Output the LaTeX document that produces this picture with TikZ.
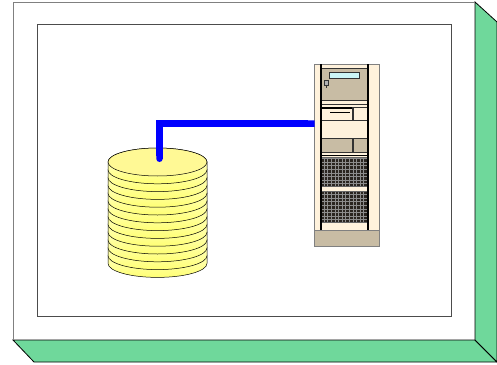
\documentclass[tikz,border=0pt]{standalone}
\usetikzlibrary{positioning}
\usetikzlibrary{arrows.meta}
\definecolor{cream}{HTML}{FFF2DC}
\definecolor{taupe}{HTML}{C8BCA4}
\definecolor{slab}{HTML}{6FD89B}
\definecolor{lcd}{HTML}{CCF6F6}
\definecolor{vent}{HTML}{2A2520}
\definecolor{diskface}{HTML}{FFF995}
\tikzset{x=1pt, y=-1pt}
\tikzset{edge/.style={draw=black, line width=0.8pt}}
\tikzset{rack/.style={rectangle, draw=gray, fill=cream, line width=0.6pt,
   minimum width=65pt, minimum height=166pt, inner sep=0pt}}
\tikzset{part/.style={draw=black!80, line width=0.6pt}}
\tikzset{disc/.style={draw=black, line width=0.5pt, top color=yellow!10, bottom color=yellow!55}}
\tikzset{link/.style={draw=blue, line width=6.5pt, {Round Cap[]}-{Butt Cap[]}}}

\begin{document}
\begin{tikzpicture}
  \useasboundingbox (0,0) rectangle (497,364);

  % box with its sides
  \fill[white] (13,2) rectangle (475,340);
  \filldraw[fill=slab, edge] (13,340) -- (475,340) -- (497,362) -- (34,362) -- cycle;
  \filldraw[fill=slab, edge] (475,2) -- (497,22) -- (497,362) -- (475,340) -- cycle;
  \draw[gray, line width=0.8pt] (13,340) -- (13,2) -- (475,2);
  \draw[black!70, line width=0.8pt] (37,24) rectangle (451,316);

  % disk stack
  \foreach \k in {12,...,0} {
    \pgfmathsetmacro\c{162+7.8*\k}
    \path[disc] (108,\c) -- (108,\c+7.8)
      arc[start angle=180, end angle=360, x radius=49.5pt, y radius=14pt]
      -- (207,\c)
      arc[start angle=0, end angle=180, x radius=49.5pt, y radius=14pt] -- cycle;
  }
  \filldraw[fill=diskface, draw=black, line width=0.5pt]
    (157.5,162) ellipse [x radius=49.5pt, y radius=14pt];
  \coordinate (disks) at (159.5,162);

  % server rack
  \node[rack] (server) at (346.5,147) {};
  \filldraw[fill=taupe, draw=gray, line width=0.6pt] (314,230) rectangle (379,246);
  \filldraw[fill=taupe, part] (321,68) rectangle (368,100);
  \filldraw[fill=lcd, part] (329,72) rectangle (359,78);
  \filldraw[fill=gray!60, part] (324,80) rectangle (328,85);
  \draw[part] (326,85) -- (326,88);
  \draw[part] (321,104) -- (368,104);
  \filldraw[fill=cream, part] (321,107) rectangle (352,120);
  \filldraw[fill=cream, part] (353,107) rectangle (368,120);
  \draw[black, line width=1.2pt] (322,108) -- (352,108);
  \draw[black, line width=1pt] (330,112) -- (350,112);
  \filldraw[fill=cream, part] (321,120) rectangle (368,138);
  \filldraw[fill=taupe, part] (321,138) rectangle (352,152);
  \filldraw[fill=taupe, part] (353,138) rectangle (368,152);
  \draw[black, line width=1pt] (321,155) -- (368,155);
  \foreach \top/\bot in {157/186, 191/222} {
    \fill[vent] (321,\top) rectangle (368,\bot);
    \draw[black!45, line width=0.3pt, step=3.6pt] (321,\top) grid (368,\bot);
    \draw[black!60, line width=0.6pt] (321,\top) rectangle (368,\bot);
  }
  \draw[black, line width=1.6pt] (321,64) -- (321,230);
  \draw[black, line width=1.6pt] (368,64) -- (368,230);

  % cable
  \draw[link] (disks) |- ([xshift=1pt, yshift=-60pt]server.north west);
\end{tikzpicture}
\end{document}
